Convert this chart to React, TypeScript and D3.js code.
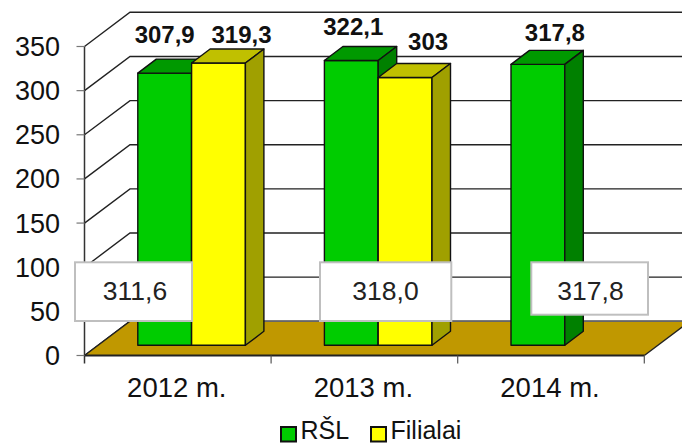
import React from "react";
import * as d3 from "d3";

const years = ["2012 m.", "2013 m.", "2014 m."];
const rsl = [307.9, 322.1, 317.8];
const filialai: (number | null)[] = [319.3, 303, null];
const rslLabels = ["307,9", "322,1", "317,8"];
const filialaiLabels = ["319,3", "303", ""];
const averages = ["311,6", "318,0", "317,8"];
const yTicks = [0, 50, 100, 150, 200, 250, 300, 350];

const FONT = "'Liberation Sans', Arial, sans-serif";
const W = 682, H = 444;
const x0 = 84.5, x1 = 644.3;
const yBottom = 355.5, yTop = 46.5;
const wallDx = 45.5, wallDy = 34.2;
const barDx = 18.5, barDy = 14;
const barBase = 345.3;
const barStart = 53.3, barW = 53.8;

const x = d3.scaleBand<string>().domain(years).range([x0, x1]);
const y = d3.scaleLinear().domain([0, 350]).range([yBottom, yTop]);
const barY = d3.scaleLinear().domain([0, 350]).range([barBase, barBase - 350 * 0.884]);

const C = {
  green: ["#00CC00", "#009900", "#008000"],
  yellow: ["#FFFF00", "#C0C000", "#A0A000"],
  floor: "#C09800",
  line: "#222222",
};

const poly = (pts: number[][]) => d3.line()(pts as [number, number][]) + "Z";

function Bar({ left, value, colors }: { left: number; value: number; colors: string[] }) {
  const t = barY(value);
  const r = left + barW;
  return (
    <g stroke="#111" strokeWidth={1.4} strokeLinejoin="round">
      <path d={poly([[left, barBase], [left, t], [r, t], [r, barBase]])} fill={colors[0]} />
      <path d={poly([[left, t], [left + barDx, t - barDy], [r + barDx, t - barDy], [r, t]])} fill={colors[1]} />
      <path d={poly([[r, t], [r + barDx, t - barDy], [r + barDx, barBase - barDy], [r, barBase]])} fill={colors[2]} />
    </g>
  );
}

// label offsets relative to the bar's front-top centre
const rslNudge = [[0, -30.3], [2, -25.7], [17, -23]];
const filNudge = [[23, -20], [23, -27.5], [0, 0]];
const boxes = [
  { l: 75, r: 192, t: 262.3, b: 321, tx: 135 },
  { l: 320, r: 451.3, t: 262.3, b: 321, tx: 385.5 },
  { l: 531.3, r: 648, t: 262.3, b: 314.7, tx: 590.5 },
];

export default function App() {
  const step = x.step();
  return (
    <svg width={W} height={H} viewBox={`0 0 ${W} ${H}`} style={{ position: "absolute", left: 0, top: 0, background: "#fff" }} fontFamily={FONT}>
      {/* walls */}
      {yTicks.map((t) => (
        <g key={t} fill="none" stroke={C.line} strokeWidth={1.4}>
          <path d={`M${x0},${y(t)}L${x0 + wallDx},${y(t) - wallDy}L${W},${y(t) - wallDy}`} />
        </g>
      ))}
      {/* floor */}
      <path d={poly([[x0, yBottom], [x0 + wallDx, yBottom - wallDy], [x1 + wallDx, yBottom - wallDy], [x1, yBottom]])} fill={C.floor} stroke="none" />
      <path d={`M${x0},${yBottom}L${x0 + wallDx},${yBottom - wallDy}M${x1},${yBottom}L${x1 + wallDx},${yBottom - wallDy}`} stroke={C.line} strokeWidth={1.4} fill="none" />
      <path d={`M${x0 + wallDx},${yBottom - wallDy}L${W},${yBottom - wallDy}`} stroke="#666" strokeWidth={1.4} fill="none" />
      {/* axes */}
      <path d={`M${x0},${yTop}V${yBottom + 8}`} stroke="#333" strokeWidth={1.5} fill="none" />
      <path d={`M${x0},${yBottom}H${x1}`} stroke="#222" strokeWidth={2} fill="none" />
      {yTicks.map((t) => (
        <g key={t}>
          <path d={`M${x0 - 8},${y(t)}H${x0}`} stroke="#777" strokeWidth={1.2} />
          <text x={60} y={y(t) + 9.5} textAnchor="end" fontSize={27} fill="#111">{t}</text>
        </g>
      ))}
      {years.map((c) => (
        <path key={c} d={`M${x(c)! + step},${yBottom}v8`} stroke="#555" strokeWidth={1.2} />
      ))}
      {years.map((c) => (
        <text key={c} x={x(c)! + step / 2 - 1} y={397} textAnchor="middle" fontSize={27.5} fill="#111">{c}</text>
      ))}
      {/* bars */}
      {years.map((c, i) => {
        const left = x(c)! + barStart;
        const f = filialai[i];
        return (
          <g key={c}>
            <Bar left={left} value={rsl[i]} colors={C.green} />
            {f != null && <Bar left={left + barW} value={f} colors={C.yellow} />}
          </g>
        );
      })}
      {/* data labels */}
      {years.map((c, i) => {
        const left = x(c)! + barStart;
        const f = filialai[i];
        return (
          <g key={c} fontSize={24} fontWeight="bold" fill="#111" textAnchor="middle">
            <text x={left + barW / 2 + rslNudge[i][0]} y={barY(rsl[i]) + rslNudge[i][1]}>{rslLabels[i]}</text>
            {f != null && <text x={left + barW * 1.5 + filNudge[i][0]} y={barY(f) + filNudge[i][1]}>{filialaiLabels[i]}</text>}
          </g>
        );
      })}
      {/* average boxes */}
      {boxes.map((b, i) => (
        <g key={i}>
          <rect x={b.l} y={b.t} width={b.r - b.l} height={b.b - b.t} fill="#fff" stroke="#BFBFBF" strokeWidth={2} />
          <text x={b.tx} y={300} textAnchor="middle" fontSize={26.5} fill="#222">{averages[i]}</text>
        </g>
      ))}
      {/* legend */}
      <rect x={281} y={427} width={15} height={14.5} fill={C.green[0]} stroke="#111" strokeWidth={2} />
      <text x={300.5} y={438.7} fontSize={25} fill="#111">RŠL</text>
      <rect x={371} y={427} width={15} height={14.5} fill={C.yellow[0]} stroke="#111" strokeWidth={2} />
      <text x={390.5} y={438.7} fontSize={25} fill="#111">Filialai</text>
    </svg>
  );
}
